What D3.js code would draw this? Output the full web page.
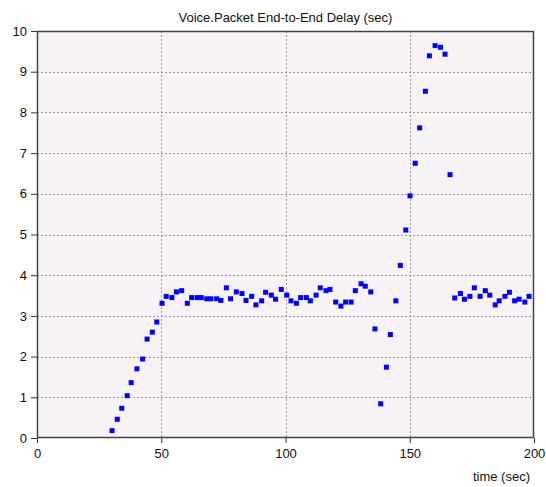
<!DOCTYPE html>
<html>
<head>
<meta charset="utf-8">
<script src="https://cdn.jsdelivr.net/npm/d3@7"></script>
<style>
  body { margin: 0; background: #fff; }
  text { font-family: "Liberation Sans", Arial, sans-serif; }
</style>
</head>
<body>
<div id="chart"></div>
<script>
// sample times (sec) and delay values (sec)
var times = [30.2, 32.3, 34.1, 36.3, 37.9, 40.2, 42.5, 44.3, 46.4, 48.2,
  50.3, 52.0, 54.3, 56.1, 58.2, 60.5, 62.2, 64.4, 66.1, 68.3,
  70.0, 72.3, 74.0, 76.2, 77.9, 80.2, 82.5, 84.1, 86.4, 88.1,
  90.4, 92.0, 94.3, 96.0, 98.3, 100.5, 102.2, 104.4, 106.1, 108.4,
  110.0, 112.3, 114.0, 116.3, 117.9, 120.2, 122.3, 124.2, 126.4, 128.1,
  130.4, 132.1, 134.3, 136.0, 138.3, 140.6, 142.2, 144.4, 146.2, 148.4,
  150.1, 152.2, 154.0, 156.3, 157.9, 160.2, 162.4, 164.2, 166.2, 168.1,
  170.4, 172.0, 174.2, 176.0, 178.3, 180.4, 182.2, 184.4, 186.0, 188.3,
  190.1, 192.2, 194.0, 196.3, 198.0];
var delays = [0.18, 0.46, 0.73, 1.04, 1.36, 1.70, 1.94, 2.43, 2.60, 2.85,
  3.31, 3.48, 3.45, 3.59, 3.62, 3.31, 3.45, 3.45, 3.45, 3.42,
  3.42, 3.42, 3.38, 3.69, 3.42, 3.59, 3.55, 3.38, 3.48, 3.27,
  3.37, 3.58, 3.51, 3.41, 3.65, 3.51, 3.37, 3.31, 3.45, 3.45,
  3.37, 3.51, 3.69, 3.62, 3.65, 3.34, 3.24, 3.34, 3.34, 3.62,
  3.79, 3.73, 3.59, 2.68, 0.84, 1.74, 2.54, 3.37, 4.24, 5.11,
  5.95, 6.75, 7.62, 8.52, 9.39, 9.64, 9.60, 9.43, 6.47, 3.44,
  3.55, 3.41, 3.48, 3.69, 3.48, 3.62, 3.51, 3.27, 3.37, 3.48,
  3.58, 3.37, 3.41, 3.34, 3.48];
var xTicks = [0, 50, 100, 150, 200];
var yTicks = [0, 1, 2, 3, 4, 5, 6, 7, 8, 9, 10];
var title = "Voice.Packet End-to-End Delay (sec)";
var xLabel = "time (sec)";

var data = times.map(function(t, i) { return { t: t, v: delays[i] }; });

var W = 546, H = 487;
var margin = { top: 31, right: 12, bottom: 49, left: 37 };
var width = W - margin.left - margin.right,
    height = H - margin.top - margin.bottom;

var svg = d3.select("#chart").append("svg")
    .attr("width", W)
    .attr("height", H);
var g = svg.append("g")
    .attr("transform", "translate(" + margin.left + "," + margin.top + ")");

var x = d3.scaleLinear().domain([0, 200]).range([0, width]);
var y = d3.scaleLinear().domain([0, 10]).range([height, 0]);

// plot background
g.append("rect")
    .attr("width", width).attr("height", height)
    .attr("fill", "#f6f2f6");

// dashed grid
g.selectAll(".hgrid")
    .data(yTicks.filter(function(d) { return d > 0 && d < 10; }))
    .enter().append("line")
    .attr("x1", 0).attr("x2", width)
    .attr("y1", function(d) { return Math.round(y(d)) + 0.5; })
    .attr("y2", function(d) { return Math.round(y(d)) + 0.5; })
    .attr("stroke", "#999").attr("stroke-dasharray", "2,2");
g.selectAll(".vgrid")
    .data(xTicks.filter(function(d) { return d > 0 && d < 200; }))
    .enter().append("line")
    .attr("y1", 0).attr("y2", height)
    .attr("x1", function(d) { return Math.round(x(d)) + 0.5; })
    .attr("x2", function(d) { return Math.round(x(d)) + 0.5; })
    .attr("stroke", "#999").attr("stroke-dasharray", "2,2");

// axes
var xAxis = g.append("g")
    .attr("transform", "translate(0," + height + ")")
    .call(d3.axisBottom(x).tickValues(xTicks).tickSize(5).tickPadding(6));
var yAxis = g.append("g")
    .call(d3.axisLeft(y).tickValues(yTicks).tickSize(6).tickPadding(4));
[xAxis, yAxis].forEach(function(a) {
    a.select(".domain").remove();
    a.selectAll("line").attr("stroke", "#333");
    a.selectAll("text").attr("fill", "#111").style("font-size", "13px")
        .style("font-family", "'Liberation Sans', Arial, sans-serif");
});

// frame
g.append("rect")
    .attr("x", 0.5).attr("y", 0.5)
    .attr("width", width - 1).attr("height", height - 1)
    .attr("fill", "none").attr("stroke", "#444").attr("stroke-width", 1.5);

// points
g.selectAll(".dot")
    .data(data)
    .enter().append("rect")
    .attr("class", "dot")
    .attr("x", function(d) { return x(d.t) - 2.5; })
    .attr("y", function(d) { return y(d.v) - 2.5; })
    .attr("width", 5).attr("height", 5)
    .attr("fill", "#0000ff");

// title and axis label
svg.append("text")
    .attr("x", margin.left + width / 2).attr("y", 22)
    .attr("text-anchor", "middle")
    .style("font-size", "13px").attr("fill", "#111")
    .text(title);
svg.append("text")
    .attr("x", W - 16).attr("y", 481)
    .attr("text-anchor", "end")
    .style("font-size", "13px").attr("fill", "#111")
    .text(xLabel);
</script>
</body>
</html>
